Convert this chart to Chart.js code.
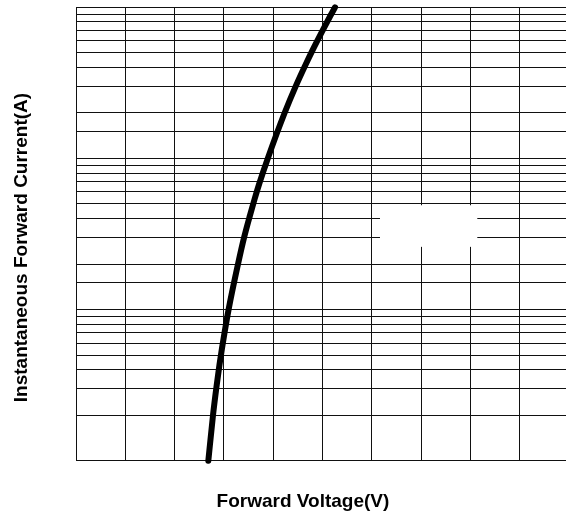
<!DOCTYPE html>
<html>
<head>
<meta charset="utf-8">
<script src="https://cdn.jsdelivr.net/npm/chart.js@4/dist/chart.umd.min.js"></script>
<style>
  html, body { margin: 0; padding: 0; background: #fff; overflow: hidden; }
  #wrap { width: 570px; height: 511px; }
</style>
</head>
<body>
<div id="wrap"><canvas id="c" width="570" height="511"></canvas></div>
<script>
// ---- data ----
const forwardVoltage = [0.2684, 0.2781, 0.2848, 0.2909, 0.2959, 0.3011, 0.3095, 0.3285, 0.3413, 0.3529, 0.3623, 0.3720, 0.3890, 0.4229, 0.4460, 0.4661, 0.4824, 0.4985, 0.5157, 0.5254];
const forwardCurrent = [0.1, 0.203, 0.306, 0.428, 0.548, 0.697, 1.0, 1.99, 3.03, 4.2, 5.39, 6.85, 10, 19.9, 30.2, 42.0, 54.1, 68.6, 87.6, 100];
const xRange = [0, 1.0];       // voltage axis, 10 divisions
const xStep = 0.1;
const yRange = [0.1, 100];     // current axis, 3 decades (log)
const xTitle = 'Forward Voltage(V)';
const yTitle = 'Instantaneous Forward Current(A)';
// blank (empty legend) box region in data units
const blankBoxX = [0.6166, 0.814];
const blankBoxY = [2.6, 4.9];

const points = forwardVoltage.map((v, i) => ({ x: v, y: forwardCurrent[i] }));

const blankBoxPlugin = {
  id: 'blankBox',
  beforeDatasetsDraw(chart) {
    const xs = chart.scales.x, ys = chart.scales.y;
    const x1 = xs.getPixelForValue(blankBoxX[0]), x2 = xs.getPixelForValue(blankBoxX[1]);
    const y1 = ys.getPixelForValue(blankBoxY[1]), y2 = ys.getPixelForValue(blankBoxY[0]);
    const ctx = chart.ctx;
    ctx.save();
    ctx.fillStyle = '#fff';
    ctx.fillRect(x1, y1, x2 - x1, y2 - y1);
    ctx.restore();
  }
};

const titlesPlugin = {
  id: 'axisTitles',
  afterDraw(chart) {
    const ctx = chart.ctx, a = chart.chartArea;
    ctx.save();
    ctx.fillStyle = '#000';
    ctx.font = 'bold 19px "Liberation Sans", Arial, sans-serif';
    ctx.textAlign = 'center';
    ctx.textBaseline = 'alphabetic';
    ctx.fillText(xTitle, a.left + (a.right - a.left) * 0.4604, a.bottom + 46.6);
    ctx.translate(26.7, a.top + (a.bottom - a.top) * 0.5298);
    ctx.rotate(-Math.PI / 2);
    ctx.fillText(yTitle, 0, 0);
    ctx.restore();
  }
};

new Chart(document.getElementById('c'), {
  type: 'line',
  data: {
    datasets: [{
      data: points,
      borderColor: '#000',
      borderWidth: 6,
      borderCapStyle: 'round',
      borderJoinStyle: 'round',
      pointRadius: 0,
      cubicInterpolationMode: 'monotone',
      fill: false,
      clip: false
    }]
  },
  options: {
    responsive: false,
    animation: false,
    devicePixelRatio: 1,
    layout: { padding: { left: 76, top: 7.3, right: 1, bottom: 50.3 } },
    plugins: { legend: { display: false }, tooltip: { enabled: false }, title: { display: false } },
    scales: {
      x: {
        type: 'linear',
        min: xRange[0], max: xRange[1],
        ticks: { display: false, stepSize: xStep },
        grid: { color: '#111', lineWidth: 1, drawTicks: false },
        border: { display: true, color: '#111', width: 1 }
      },
      y: {
        type: 'logarithmic',
        min: yRange[0], max: yRange[1],
        ticks: { display: false },
        grid: { color: '#111', lineWidth: 1, drawTicks: false },
        border: { display: true, color: '#111', width: 1 }
      }
    }
  },
  plugins: [blankBoxPlugin, titlesPlugin]
});
</script>
</body>
</html>
